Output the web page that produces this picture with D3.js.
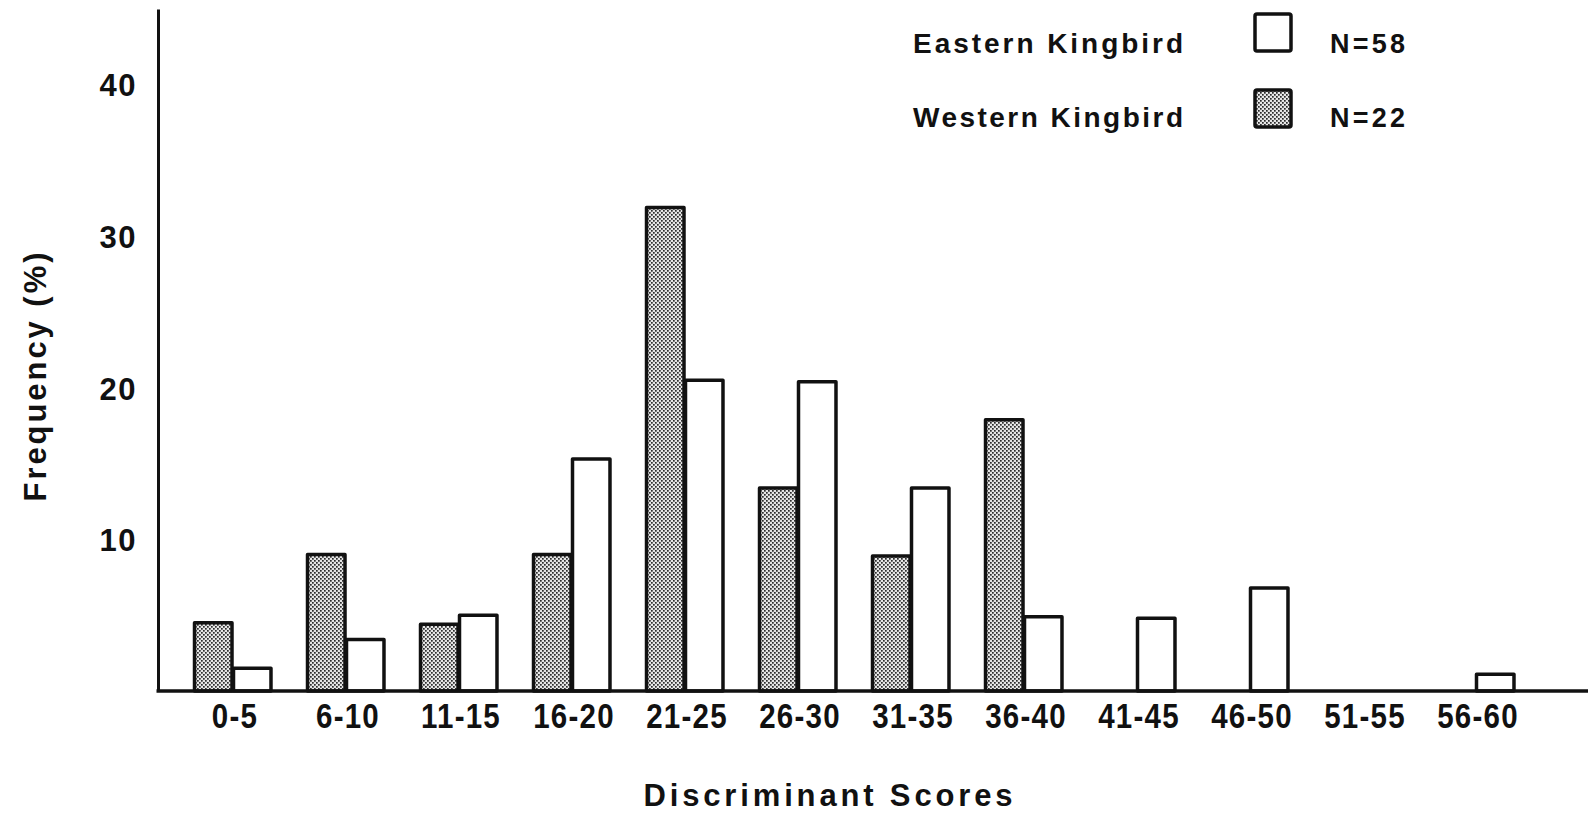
<!DOCTYPE html>
<html>
<head>
<meta charset="utf-8">
<script src="https://cdn.jsdelivr.net/npm/d3@7/dist/d3.min.js"></script>
<style>
  html, body { margin: 0; padding: 0; background: #fff; }
  svg { display: block; }
  text { font-family: "Liberation Sans", Arial, Helvetica, sans-serif; font-weight: bold; fill: #111; }
</style>
</head>
<body>
<svg id="chart" width="1590" height="820"></svg>
<script>
// Discriminant score classes
const categories = ["0-5", "6-10", "11-15", "16-20", "21-25", "26-30",
                    "31-35", "36-40", "41-45", "46-50", "51-55", "56-60"];
// Frequency (%) per class
const westernValues = [4.6, 9.1, 4.5, 9.1, 32.0, 13.5, 9.0, 18.0, 0, 0, 0, 0];
const easternValues = [1.6, 3.5, 5.1, 15.4, 20.6, 20.5, 13.5, 5.0, 4.9, 6.9, 0, 1.2];
const yTicks = [10, 20, 30, 40];
const seriesNames = ["Western Kingbird", "Eastern Kingbird"];
const seriesN = ["N=22", "N=58"];

const svg = d3.select("#chart");

// stippled fill for the western bars
const defs = svg.append("defs");
const pat = defs.append("pattern")
  .attr("id", "stipple")
  .attr("patternUnits", "userSpaceOnUse")
  .attr("width", 4).attr("height", 4);
pat.append("rect").attr("width", 4).attr("height", 4).attr("fill", "#e6e6e6");
pat.append("rect").attr("x", 0).attr("y", 0).attr("width", 1.7).attr("height", 1.7).attr("fill", "#2a2a2a");
pat.append("rect").attr("x", 2).attr("y", 2).attr("width", 1.7).attr("height", 1.7).attr("fill", "#2a2a2a");

const axisX = 158, baseY = 691, topY = 9, rightX = 1588;

const y = d3.scaleLinear().domain([0, 45]).range([baseY, topY]);
const x = d3.scaleBand().domain(categories)
  .range([175.5, 1531.5]).paddingInner(0.31).paddingOuter(0.155);
const xs = d3.scaleBand().domain(seriesNames).range([0, x.bandwidth()]);

const fills = { "Western Kingbird": "url(#stipple)", "Eastern Kingbird": "#fff" };

const rows = categories.map((c, i) => ({
  cat: c,
  vals: [
    { s: "Western Kingbird", v: westernValues[i] },
    { s: "Eastern Kingbird", v: easternValues[i] }
  ]
}));

// bars
const groups = svg.append("g").selectAll("g")
  .data(rows).join("g")
  .attr("transform", d => `translate(${x(d.cat)},0)`);

groups.selectAll("rect")
  .data(d => d.vals.filter(e => e.v > 0))
  .join("rect")
  .attr("x", d => xs(d.s) + 1.5)
  .attr("width", xs.bandwidth() - 1.5)
  .attr("y", d => y(d.v) + 1.5)
  .attr("height", d => baseY - y(d.v) - 1.5)
  .attr("fill", d => fills[d.s])
  .attr("stroke", "#111")
  .attr("stroke-width", 3.5)
  .attr("stroke-linejoin", "round");

// y axis
const yAxis = svg.append("g")
  .attr("transform", `translate(${axisX},0)`)
  .call(d3.axisLeft(y).tickValues(yTicks).tickSize(0).tickPadding(21).tickSizeOuter(0));
yAxis.select(".domain").attr("stroke", "#111").attr("stroke-width", 3);
yAxis.selectAll(".tick text")
  .attr("font-size", 31).attr("dy", "0.36em")
  .attr("letter-spacing", 1.5)
  .style("font-family", '"Liberation Sans", Arial, sans-serif')
  .style("font-weight", "bold").attr("fill", "#111");

// x axis
const xAxis = svg.append("g")
  .attr("transform", `translate(0,${baseY})`)
  .call(d3.axisBottom(x).tickSize(0).tickPadding(11));
xAxis.select(".domain").remove();
xAxis.selectAll(".tick text")
  .attr("font-size", 36).attr("dy", "0.71em")
  .attr("letter-spacing", 1.5)
  .attr("transform", "scale(0.82,1)")
  .style("font-family", '"Liberation Sans Narrow", "Liberation Sans", Arial, sans-serif')
  .style("font-weight", "bold").attr("fill", "#111");
xAxis.selectAll(".tick").each(function () {
  const t = d3.select(this);
  const tx = +t.attr("transform").match(/translate\(([-\d.]+)/)[1];
  t.attr("transform", `translate(${tx + 3},0)`);
});
svg.append("line")
  .attr("x1", axisX - 1.5).attr("x2", rightX)
  .attr("y1", baseY).attr("y2", baseY)
  .attr("stroke", "#111").attr("stroke-width", 3.5);

// axis titles
svg.append("text")
  .attr("x", 828).attr("y", 806)
  .attr("text-anchor", "middle")
  .attr("font-size", 31)
  .attr("textLength", 369).attr("lengthAdjust", "spacing")
  .text("Discriminant Scores");

svg.append("text")
  .attr("transform", "translate(46,377) rotate(-90)")
  .attr("text-anchor", "middle")
  .attr("font-size", 31)
  .attr("textLength", 249).attr("lengthAdjust", "spacing")
  .text("Frequency (%)");

// legend
const legendRows = [
  { name: seriesNames[1], n: seriesN[1], fill: fills[seriesNames[1]], base: 53, boxY: 14 },
  { name: seriesNames[0], n: seriesN[0], fill: fills[seriesNames[0]], base: 127, boxY: 90 }
];
const lg = svg.append("g");
lg.selectAll("text.name").data(legendRows).join("text")
  .attr("class", "name")
  .attr("x", 913).attr("y", d => d.base)
  .attr("font-size", 28)
  .attr("textLength", 270).attr("lengthAdjust", "spacing")
  .text(d => d.name);
lg.selectAll("rect").data(legendRows).join("rect")
  .attr("x", 1255).attr("y", d => d.boxY)
  .attr("width", 36).attr("height", 37)
  .attr("rx", 2)
  .attr("fill", d => d.fill)
  .attr("stroke", "#111").attr("stroke-width", 3.5);
lg.selectAll("text.n").data(legendRows).join("text")
  .attr("class", "n")
  .attr("x", 1330).attr("y", d => d.base)
  .attr("font-size", 27)
  .attr("textLength", 75).attr("lengthAdjust", "spacing")
  .text(d => d.n);
</script>
</body>
</html>
